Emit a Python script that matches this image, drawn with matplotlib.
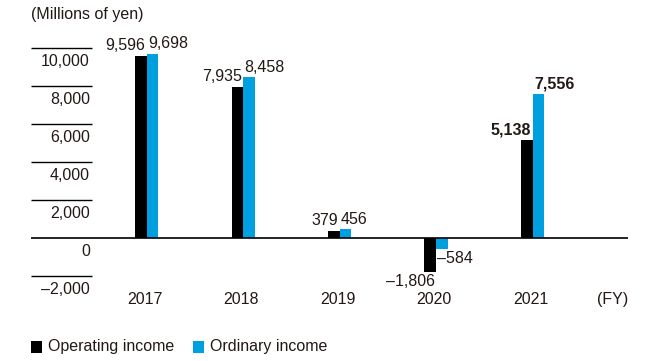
import matplotlib
matplotlib.use("Agg")
import matplotlib.pyplot as plt
from matplotlib.patches import Rectangle
import numpy as np

plt.rcParams['font.family'] = ['Liberation Sans', 'DejaVu Sans']

years = ['2017', '2018', '2019', '2020', '2021']
operating_income = [9596, 7935, 379, -1806, 5138]
ordinary_income = [9698, 8458, 456, -584, 7556]
y_ticks = [10000, 8000, 6000, 4000, 2000, 0, -2000]
bold_years = ['2021']

BLACK = '#000000'
BLUE = '#009FE0'
TEXT = '#231815'
FS = 11.5

W, H = 659, 361
fig = plt.figure(figsize=(W / 100, H / 100), dpi=100)

# axes spans the zero line horizontally; vertical limits set so 2,000 = 38 px
ax_left, ax_right = 31, 628
ax_top, ax_bot = 40, 290
ax = fig.add_axes([ax_left / W, 1 - ax_bot / H, (ax_right - ax_left) / W, (ax_bot - ax_top) / H])
ax.set_xlim(-1.2, 4.99)
ax.set_ylim(-2737, 10421)
ax.axis('off')

x = np.arange(len(years))
bw = 0.12
ax.bar(x - bw / 2, operating_income, width=bw, color=BLACK, linewidth=0)
ax.bar(x + bw / 2, ordinary_income, width=bw, color=BLUE, linewidth=0)

# zero line across the plot
ax.axhline(0, color=BLACK, lw=1.2, zorder=3)

# short guide lines and y labels on the left
for v in y_ticks:
    if v != 0:
        ax.plot([-1.2, -0.568], [v, v], color=BLACK, lw=1.0, solid_capstyle='butt')
    lbl = f"{v:,}".replace('-', '–')
    ax.annotate(lbl, xy=(-0.59, v), xytext=(0, -9.5), textcoords='offset points',
                ha='right', va='center', fontsize=FS, color=TEXT)

# value labels
def fmt(v):
    return f"{v:,}".replace('-', '–')

for i, yr in enumerate(years):
    weight = 'bold' if yr in bold_years else 'normal'
    for v, side in ((operating_income[i], -1), (ordinary_income[i], 1)):
        dy = 2.0 if v >= 0 else -1.5
        va = 'bottom' if v >= 0 else 'top'
        ha = 'right' if side < 0 else 'left'
        ax.annotate(fmt(v), xy=(i, v), xytext=(1.0 * side, dy), textcoords='offset points',
                    ha=ha, va=va, fontsize=FS, color=TEXT, fontweight=weight)

# year labels
for i, yr in enumerate(years):
    ax.text(i - 0.02, (238 - 300) / 0.019, yr, ha='center', va='center', fontsize=FS, color=TEXT)
ax.text(4.83, (238 - 300) / 0.019, '(FY)', ha='center', va='center', fontsize=FS, color=TEXT)

# unit caption
fig.text(31 / W, 1 - 15 / H, '(Millions of yen)', ha='left', va='center', fontsize=FS, color=TEXT)

# legend
for x0, color, label in ((31, BLACK, 'Operating income'), (193, BLUE, 'Ordinary income')):
    fig.add_artist(Rectangle((x0 / W, 1 - 353 / H), 11 / W, 12 / H, transform=fig.transFigure,
                             facecolor=color, edgecolor='none'))
    fig.text((x0 + 17) / W, 1 - 347 / H, label, ha='left', va='center', fontsize=FS, color=TEXT)

fig.savefig('out.png', dpi=100)
